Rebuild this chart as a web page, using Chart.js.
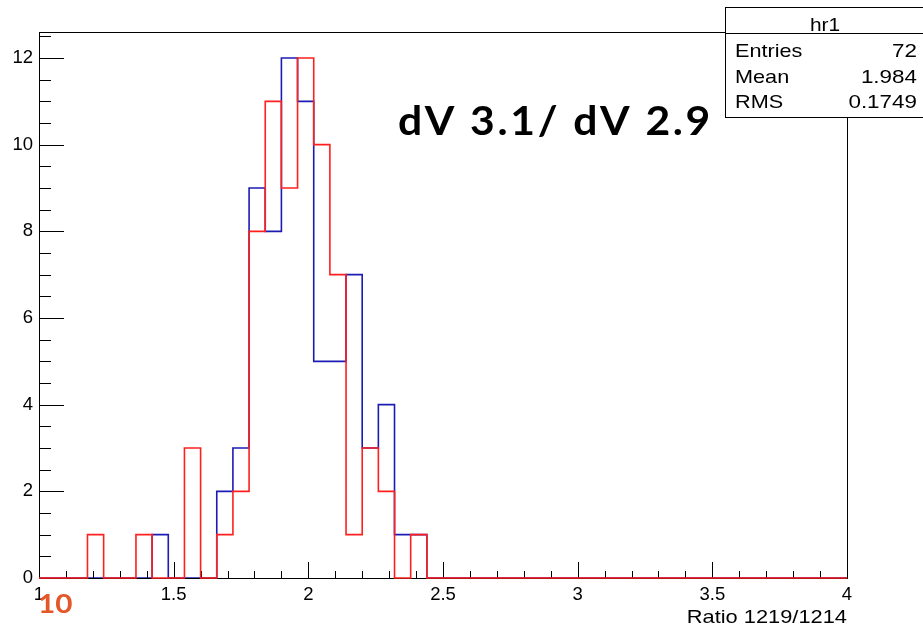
<!DOCTYPE html>
<html>
<head>
<meta charset="utf-8">
<script src="https://cdn.jsdelivr.net/npm/chart.js@4/dist/chart.umd.min.js"></script>
<style>
  html, body { margin: 0; padding: 0; background: #ffffff; }
  #wrap { width: 923px; height: 627px; position: relative; }
</style>
</head>
<body>
<div id="wrap"><canvas id="c" width="923" height="627"></canvas></div>
<script>
// Histogram binning: 50 bins of width 0.06 covering 1 .. 4
const binLow = 1.0;
const binHigh = 4.0;
const binWidth = 0.06;

// Bin contents, first histogram (blue, "hr1")
const blueCounts = [
  0, 0, 0, 0, 0, 0, 0, 1, 0, 0,
  0, 2, 3, 9, 8, 12, 11, 5, 5, 7,
  3, 4, 1, 1, 0, 0, 0, 0, 0, 0,
  0, 0, 0, 0, 0, 0, 0, 0, 0, 0,
  0, 0, 0, 0, 0, 0, 0, 0, 0, 0
];

// Bin contents, second histogram (red)
const redCounts = [
  0, 0, 0, 1, 0, 0, 1, 0, 0, 3,
  0, 1, 2, 8, 11, 9, 12, 10, 7, 1,
  3, 2, 0, 1, 0, 0, 0, 0, 0, 0,
  0, 0, 0, 0, 0, 0, 0, 0, 0, 0,
  0, 0, 0, 0, 0, 0, 0, 0, 0, 0
];

const xTickValues = [1, 1.5, 2, 2.5, 3, 3.5, 4];
const yTickValues = [0, 2, 4, 6, 8, 10, 12];
const yMax = 12.6;

const statsTitle = 'hr1';
const statsRows = [['Entries', '72'], ['Mean', '1.984'], ['RMS', '0.1749']];
const xAxisTitle = 'Ratio 1219/1214';
const annotation = 'dV 3.1/ dV 2.9';
const pageNumber = '10';

// Outline of a histogram as step points at the bin low edges
function outline(counts) {
  const pts = [];
  for (let i = 0; i < counts.length; i++) {
    pts.push({ x: binLow + i * binWidth, y: counts[i] });
  }
  pts.push({ x: binHigh, y: 0 });
  return pts;
}

const SANS = '"Liberation Sans", Arial, Helvetica, sans-serif';
const BOLD = 'bold {s}px Lato, "Open Sans", sans-serif';

// Text drawn with a horizontal stretch factor
function stretchedText(ctx, text, x, y, align, sx) {
  const w = ctx.measureText(text).width * sx;
  let left = x;
  if (align === 'right') left = x - w;
  else if (align === 'center') left = x - w / 2;
  ctx.save();
  ctx.textAlign = 'left';
  ctx.translate(left, y);
  ctx.scale(sx, 1);
  ctx.fillText(text, 0, 0);
  ctx.restore();
}

// Frame around the plot area with inward tick marks
function drawFrame(chart) {
  const ctx = chart.ctx;
  const a = chart.chartArea;
  const xs = chart.scales.x;
  const ys = chart.scales.y;
  ctx.save();
  ctx.strokeStyle = '#000';
  ctx.lineWidth = 1;
  ctx.strokeRect(Math.round(a.left) + 0.5, Math.round(a.top) + 0.5,
                 Math.round(a.right - a.left), Math.round(a.bottom - a.top));
  ctx.beginPath();
  // x-axis ticks: major every 0.5, minor every 0.1
  for (let k = 0; k <= 30; k++) {
    const v = 1 + k * 0.1;
    const px = Math.round(xs.getPixelForValue(v)) + 0.5;
    const len = (k % 5 === 0) ? 16 : 7;
    ctx.moveTo(px, a.bottom);
    ctx.lineTo(px, a.bottom - len);
  }
  // y-axis ticks: major every 2, minor every 0.5
  for (let k = 0; k <= 25; k++) {
    const v = k * 0.5;
    const py = Math.round(ys.getPixelForValue(v)) + 0.5;
    const len = (k % 4 === 0) ? 25 : 12;
    ctx.moveTo(a.left, py);
    ctx.lineTo(a.left + len, py);
  }
  ctx.stroke();
  ctx.restore();
}

const framePlugin = {
  id: 'rootFrame',
  afterDatasetDraw(chart, args) {
    // draw the frame after the blue histogram, beneath the red one
    if (args.index === 1) drawFrame(chart);
  },
  afterDraw(chart) {
    const ctx = chart.ctx;
    const a = chart.chartArea;
    ctx.save();
    // statistics box
    const bx = 725, by = 7, bw = 215, bh = 110;
    ctx.fillStyle = '#fff';
    ctx.fillRect(bx, by, bw, bh);
    ctx.strokeStyle = '#000';
    ctx.lineWidth = 1;
    ctx.strokeRect(bx + 0.5, by + 0.5, bw, bh);
    ctx.beginPath();
    ctx.moveTo(bx, 33.5);
    ctx.lineTo(bx + bw, 33.5);
    ctx.stroke();
    ctx.fillStyle = '#000';
    ctx.font = '19px ' + SANS;
    ctx.textBaseline = 'alphabetic';
    stretchedText(ctx, statsTitle, 825, 31, 'center', 1.1);
    const baselines = [57, 83, 108];
    statsRows.forEach((r, i) => {
      stretchedText(ctx, r[0], 735, baselines[i], 'left', 1.14);
      stretchedText(ctx, r[1], 917, baselines[i], 'right', 1.18);
    });
    // x-axis title, right-aligned to the frame
    ctx.font = '18.5px ' + SANS;
    stretchedText(ctx, xAxisTitle, a.right, 623, 'right', 1.18);
    // annotation: letter-spaced bold text spanning a fixed width
    ctx.font = BOLD.replace('{s}', 40);
    ctx.letterSpacing = '2.5px';
    stretchedText(ctx, annotation, 398, 135, 'left', 315 / ctx.measureText(annotation).width);
    ctx.letterSpacing = '0px';
    // page number
    ctx.fillStyle = '#e4572a';
    ctx.font = BOLD.replace('{s}', 27);
    stretchedText(ctx, pageNumber, 38, 613, 'left', 1.1);
    ctx.restore();
  }
};

new Chart(document.getElementById('c'), {
  type: 'line',
  data: {
    datasets: [
      {
        label: 'red',
        data: outline(redCounts),
        stepped: 'before',
        borderColor: '#ff1f1f',
        borderWidth: 1.6,
        pointRadius: 0,
        fill: false,
        clip: 4
      },
      {
        label: statsTitle,
        data: outline(blueCounts),
        stepped: 'before',
        borderColor: '#1c1cb4',
        borderWidth: 1.6,
        pointRadius: 0,
        fill: false,
        clip: 4
      }
    ]
  },
  options: {
    responsive: false,
    animation: false,
    devicePixelRatio: 1,
    layout: { padding: { top: 32, right: 76, left: 0, bottom: 0 } },
    plugins: {
      legend: { display: false },
      tooltip: { enabled: false },
      title: { display: false }
    },
    scales: {
      x: {
        type: 'linear',
        min: binLow,
        max: binHigh,
        grid: { display: false, drawTicks: false },
        border: { display: false },
        afterBuildTicks(scale) { scale.ticks = xTickValues.map(v => ({ value: v })); },
        afterFit(scale) { scale.height = 49; },
        ticks: {
          padding: 6,
          maxRotation: 0,
          autoSkip: false,
          color: '#000',
          font: { family: SANS, size: 18.5 },
          callback: v => String(v)
        }
      },
      y: {
        type: 'linear',
        min: 0,
        max: yMax,
        grid: { display: false, drawTicks: false },
        border: { display: false },
        afterBuildTicks(scale) { scale.ticks = yTickValues.map(v => ({ value: v })); },
        afterFit(scale) { scale.width = 39; },
        ticks: {
          padding: 6,
          color: '#000',
          font: { family: SANS, size: 18.5 },
          callback: v => String(v)
        }
      }
    }
  },
  plugins: [framePlugin]
});
</script>
</body>
</html>
